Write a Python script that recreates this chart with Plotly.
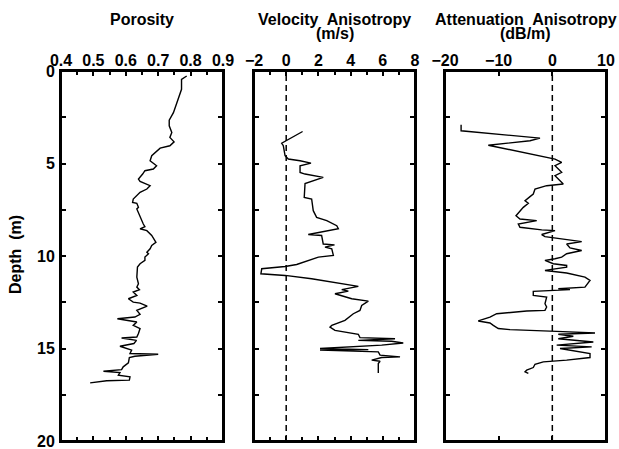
import plotly.graph_objects as go

# ---------------- data ----------------
por_depth = [0.27, 0.45, 0.99, 1.71, 2.25, 2.66, 2.96, 3.32, 3.59, 3.83, 4.04, 4.17, 4.58, 4.85, 5.12, 5.30,
             5.39, 5.57, 5.84, 5.97, 6.20, 6.38, 6.56, 6.92, 7.10, 7.15, 7.37, 7.46, 7.91, 8.27, 8.41, 8.53,
             8.63, 8.89, 9.26, 9.43, 9.61, 9.80, 9.88, 10.06, 10.24, 10.42, 10.60, 11.14, 11.50, 11.68, 11.82,
             11.95, 12.13, 12.31, 12.49, 12.55, 12.71, 12.94, 13.15, 13.30, 13.39, 13.57, 13.75, 13.92, 14.19,
             14.38, 14.43, 14.56, 14.73, 14.88, 15.09, 15.27, 15.31, 15.42, 15.49, 15.78, 15.99, 16.14, 16.23,
             16.26, 16.30, 16.44, 16.53, 16.71, 16.74, 16.86]
porosity = [0.788, 0.772, 0.772, 0.757, 0.747, 0.734, 0.734, 0.742, 0.736, 0.749, 0.736, 0.706, 0.680, 0.675,
            0.695, 0.685, 0.659, 0.652, 0.639, 0.644, 0.675, 0.665, 0.644, 0.623, 0.621, 0.634, 0.639, 0.634,
            0.644, 0.654, 0.659, 0.644, 0.665, 0.680, 0.693, 0.680, 0.675, 0.665, 0.670, 0.659, 0.659, 0.644,
            0.636, 0.634, 0.639, 0.634, 0.642, 0.623, 0.634, 0.608, 0.623, 0.644, 0.666, 0.634, 0.644, 0.628,
            0.574, 0.634, 0.623, 0.644, 0.639, 0.634, 0.587, 0.633, 0.625, 0.582, 0.618, 0.613, 0.700, 0.628,
            0.611, 0.608, 0.592, 0.587, 0.531, 0.562, 0.582, 0.577, 0.613, 0.611, 0.541, 0.490]

vel_depth = [3.27, 3.81, 3.90, 4.04, 4.31, 4.58, 4.76, 4.85, 4.98, 5.12, 5.48, 5.57, 5.75, 6.08, 6.83, 6.92,
             7.55, 7.91, 8.09, 8.36, 8.53, 8.84, 8.89, 9.35, 9.40, 9.52, 9.61, 9.97, 10.06, 10.33, 10.46, 10.57,
             10.69, 10.96, 11.05, 11.23, 11.50, 11.64, 11.82, 11.90, 12.04, 12.22, 12.31, 12.44, 12.67, 12.94,
             13.12, 13.48, 13.75, 13.84, 14.02, 14.23, 14.41, 14.47, 14.56, 14.61, 14.70, 14.82, 15.00, 15.06,
             15.09, 15.18, 15.36, 15.45, 15.49, 15.63, 15.69, 15.81, 16.32]
vel_aniso = [1.02, -0.12, -0.28, -0.18, -0.12, -0.07, 0.13, 0.86, 1.54, 0.86, 0.86, 1.17, 2.30, 1.17, 1.12, 1.58,
             1.68, 1.89, 2.52, 3.14, 3.24, 1.37, 2.20, 2.30, 3.00, 2.41, 2.83, 2.93, 2.00, 1.17, 0.65, -0.07,
             -1.52, -1.57, -0.07, 1.58, 3.45, 4.48, 3.45, 3.86, 3.03, 3.65, 4.07, 5.10, 4.69, 4.58,
             4.17, 3.65, 2.83, 2.72, 3.03, 4.48, 4.58, 6.76, 4.48, 6.55, 7.27, 5.93, 2.10, 5.10,
             2.10, 5.72, 5.83, 7.07, 5.93, 5.31, 5.83, 5.72, 5.72]

att_depth = [2.91, 3.23, 3.63, 3.77, 4.01, 4.76, 4.94, 5.12, 5.48, 5.66, 6.11, 6.20, 6.38, 6.65, 6.79, 7.01,
             7.15, 7.37, 7.82, 8.00, 8.09, 8.27, 8.45, 8.59, 8.63, 8.84, 8.95, 9.22, 9.35, 9.56, 9.70, 9.88,
             10.06, 10.15, 10.24, 10.42, 10.51, 10.60, 10.78, 10.92, 11.14, 11.32, 11.68, 11.77, 11.82, 11.86,
             11.91, 12.13, 12.22, 12.58, 12.76, 12.94, 12.97, 13.12, 13.30, 13.51, 13.62, 13.75, 13.92, 13.98,
             14.05, 14.09, 14.16, 14.23, 14.34, 14.47, 14.65, 14.82, 14.91, 15.00, 15.27, 15.49, 15.63, 15.72,
             15.85, 16.03, 16.17, 16.26, 16.35]
att_aniso = [-17.0, -17.0, -2.30, -4.16, -11.93, 0.50, 1.74, 0.50, 1.74, 0.50, 2.04, -1.06, -3.23, -3.55, -4.16,
             -5.09, -4.47, -5.41, -6.77, -6.03, -2.91, -6.34, -6.03, -1.98, 0.50, -1.98, -1.37, 5.47, 2.67,
             3.29, 5.47, 2.67, 1.74, 0.50, -1.37, 0.18, 2.67, 2.67, -1.37, 2.67, 6.08, 7.02, 6.08, 1.11,
             3.29, 1.11, -3.55, -3.55, -1.06, -1.37, -1.06, -1.37, -4.78, -10.37, -11.62, -13.80, -11.62,
             -11.0, -10.07, -7.89, 0.50, 2.0, 7.95, 1.11, 3.91, 1.11, 7.64, 0.81, 7.33, 1.43, 7.02, 7.02, 2.67,
             -1.68, -3.23, -3.55, -4.78, -5.09, -4.47]

depth_ticks = [0, 5, 10, 15, 20]
por_ticks = [0.4, 0.5, 0.6, 0.7, 0.8, 0.9]
vel_ticks = [-2, 0, 2, 4, 6, 8]
att_ticks = [-20, -10, 0, 10]
titles = [["Porosity"], ["Velocity\u00a0 Anisotropy", "(m/s)"], ["Attenuation\u00a0 Anisotropy", "(dB/m)"]]
y_label = "Depth\u00a0 (m)"

# ---------------- figure ----------------
FONT = "Liberation Sans, Arial, Helvetica, sans-serif"
fig = go.Figure()
line = dict(color="black", width=1.4)
fig.add_trace(go.Scatter(x=porosity, y=por_depth, mode="lines", line=line, xaxis="x", yaxis="y"))
fig.add_trace(go.Scatter(x=vel_aniso, y=vel_depth, mode="lines", line=line, xaxis="x2", yaxis="y2"))
fig.add_trace(go.Scatter(x=att_aniso, y=att_depth, mode="lines", line=line, xaxis="x3", yaxis="y3"))

W, H = 619, 449
L, R, T, B = 61, 13, 71, 8
pw = W - L - R
ph = H - T - B
doms = [(61, 223), (254, 415), (445, 606)]
doms = [((a - L) / pw, (b - L) / pw) for a, b in doms]

tickfont = dict(family=FONT, size=16, color="black", weight="bold")
common_x = dict(side="top", showgrid=False, zeroline=False, showline=True, linecolor="black", linewidth=2,
                mirror="allticks", ticks="inside", ticklen=5, tickwidth=1.5, tickcolor="black",
                tickfont=tickfont, automargin=False, tickmode="array", ticklabeloverflow="allow",
                ticklabelstandoff=-3)
common_y = dict(range=[20, 0], showgrid=False, zeroline=False, showline=True, linecolor="black", linewidth=2,
                mirror="allticks", ticks="inside", ticklen=5, tickwidth=1.5, tickcolor="black",
                tickmode="array", tickvals=depth_ticks, tickfont=tickfont, automargin=False,
                ticklabeloverflow="allow", ticklabelstandoff=1,
                minor=dict(ticks="inside", dtick=2.5, tick0=0, ticklen=5, tickcolor="black", tickwidth=1.5))

layout = dict(width=W, height=H, margin=dict(l=L, r=R, t=T, b=B), showlegend=False,
              plot_bgcolor="white", paper_bgcolor="white")
layout["xaxis"] = dict(common_x, domain=doms[0], range=[0.4, 0.9], tickvals=por_ticks,
                       minor=dict(ticks="inside", dtick=0.05, tick0=0.4, ticklen=4, tickcolor="black",
                                  tickwidth=1.5),
                       anchor="y")
layout["xaxis2"] = dict(common_x, domain=doms[1], range=[-2, 8], tickvals=vel_ticks,
                        minor=dict(ticks="inside", dtick=1, tick0=-2, ticklen=4, tickcolor="black",
                                   tickwidth=1.5),
                        anchor="y2")
layout["xaxis3"] = dict(common_x, domain=doms[2], range=[-20, 10], tickvals=att_ticks, anchor="y3")
layout["yaxis"] = dict(common_y, anchor="x", showticklabels=True)
layout["yaxis2"] = dict(common_y, anchor="x2", showticklabels=False)
layout["yaxis3"] = dict(common_y, anchor="x3", showticklabels=False)
fig.update_layout(**layout)

for k, xa in enumerate(["x", "x2", "x3"]):
    ya = "y" + xa[1:]
    # panel frame
    fig.add_shape(type="rect", xref=xa + " domain", yref=ya + " domain", x0=0, x1=1, y0=0, y1=1,
                  line=dict(color="black", width=2), fillcolor="rgba(0,0,0,0)")
    if k > 0:
        fig.add_shape(type="line", xref=xa, yref=ya + " domain", x0=0, x1=0, y0=0, y1=1,
                      line=dict(color="black", width=1.5, dash="6px,4px"))

title_font = dict(family=FONT, size=16, color="black", weight="bold")
line_y = [19.5, 34]
for i, lines in enumerate(titles):
    cx = (doms[i][0] + doms[i][1]) / 2
    for j, t in enumerate(lines):
        fig.add_annotation(text=t, x=cx, y=(H - B - line_y[j]) / ph, xref="paper", yref="paper",
                           showarrow=False, font=title_font, xanchor="center", yanchor="middle")
fig.add_annotation(text=y_label, x=(15 - L) / pw, y=(H - B - 255) / ph, xref="paper", yref="paper",
                   showarrow=False, font=title_font, textangle=-90, xanchor="center", yanchor="middle")

fig.write_html("out.html", config={"displayModeBar": False},
               post_script="document.body.style.margin='0';")
